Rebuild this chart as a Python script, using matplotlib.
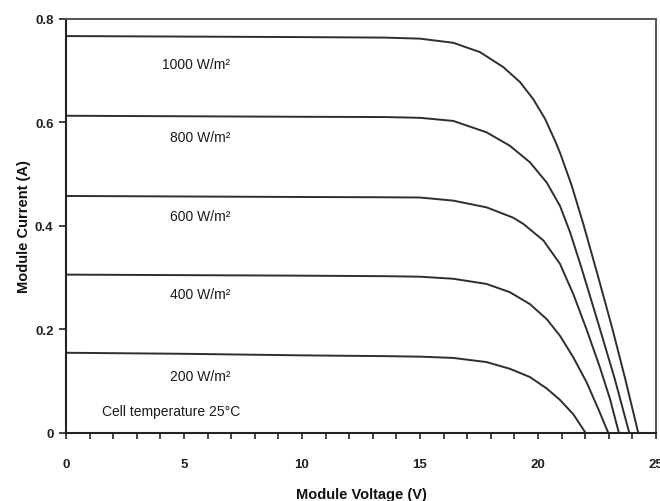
import matplotlib
matplotlib.use("Agg")
import matplotlib.pyplot as plt
from matplotlib.ticker import MultipleLocator

plt.rcParams['font.family'] = ['Liberation Sans', 'DejaVu Sans']

# I-V curves of the module at five irradiance levels (voltage V, current A)
v_1000 = [0, 5, 10, 13.5, 15.0, 16.41, 17.54, 18.53, 19.24, 19.80, 20.30, 20.72, 20.93, 21.43, 21.92,
          22.5, 23.15, 23.7, 24.25]
i_1000 = [0.767, 0.766, 0.765, 0.764, 0.762, 0.754, 0.736, 0.707, 0.678, 0.645, 0.607, 0.565, 0.542, 0.478,
          0.404, 0.31, 0.202, 0.104, 0.0]

v_800 = [0, 5, 10, 13.5, 15.0, 16.41, 17.82, 18.81, 19.66, 20.37, 20.93, 21.36, 21.85, 22.58, 23.25, 23.87]
i_800 = [0.613, 0.612, 0.611, 0.6105, 0.609, 0.603, 0.581, 0.555, 0.523, 0.484, 0.439, 0.388, 0.318, 0.208,
         0.105, 0.0]

v_600 = [0, 5, 10, 13.5, 15.0, 16.41, 17.82, 18.95, 19.38, 20.23, 20.93, 21.50, 22.06, 22.63, 23.05, 23.43]
i_600 = [0.458, 0.457, 0.456, 0.4555, 0.455, 0.449, 0.436, 0.416, 0.404, 0.372, 0.327, 0.268, 0.200, 0.126,
         0.066, 0.0]

v_400 = [0, 5, 10, 13.5, 15.0, 16.41, 17.82, 18.81, 19.66, 20.37, 20.93, 21.50, 22.06, 22.56, 22.98]
i_400 = [0.306, 0.305, 0.304, 0.303, 0.302, 0.298, 0.288, 0.272, 0.249, 0.220, 0.188, 0.146, 0.098, 0.046, 0.0]

v_200 = [0, 5, 10, 13.5, 15.0, 16.41, 17.82, 18.81, 19.24, 19.66, 20.37, 20.93, 21.50, 22.02]
i_200 = [0.155, 0.153, 0.150, 0.1485, 0.1475, 0.145, 0.137, 0.124, 0.116, 0.108, 0.086, 0.064, 0.036, 0.0]

curves = [(v_1000, i_1000), (v_800, i_800), (v_600, i_600), (v_400, i_400), (v_200, i_200)]

labels = ["1000 W/m²", "800 W/m²", "600 W/m²", "400 W/m²", "200 W/m²"]
label_x = [4.06, 4.41, 4.41, 4.41, 4.41]
label_y = [0.713, 0.571, 0.419, 0.269, 0.111]

fig = plt.figure(figsize=(6.6, 5.02), dpi=100)
ax = fig.add_axes([0.1, 0.1355, 0.8939, 0.8247])

for v, i in curves:
    ax.plot(v, i, color='#2e2e2e', lw=1.4, solid_joinstyle='round')

for lab, lx, ly in zip(labels, label_x, label_y):
    ax.text(lx, ly, lab, fontsize=10, va='center', ha='left', color='#1a1a1a')

ax.text(1.51, 0.043, "Cell temperature 25°C", fontsize=10, va='center', ha='left', color='#1a1a1a')

ax.set_xlim(0, 25)
ax.set_ylim(0, 0.8)
ax.xaxis.set_major_locator(MultipleLocator(5))
ax.xaxis.set_minor_locator(MultipleLocator(1))
ax.set_yticks([0, 0.2, 0.4, 0.6, 0.8])
ax.set_yticklabels(["0", "0.2", "0.4", "0.6", "0.8"])

ax.tick_params(axis='x', which='both', direction='out', length=4, width=1.2, pad=14,
               labelsize=9.5, colors='#222')
ax.tick_params(axis='y', which='major', direction='out', length=5, width=1.2, pad=4,
               labelsize=9.5, colors='#222')
for lbl in ax.get_xticklabels() + ax.get_yticklabels():
    lbl.set_fontweight('bold')

for side in ['left', 'bottom']:
    ax.spines[side].set_color('#222')
    ax.spines[side].set_linewidth(1.5)
for side in ['top', 'right']:
    ax.spines[side].set_color('#555')
    ax.spines[side].set_linewidth(1.4)

ax.set_xlabel("Module Voltage (V)", fontsize=10.5, fontweight='bold', labelpad=12, color='#111')
ax.set_ylabel("Module Current (A)", fontsize=10.5, fontweight='bold', labelpad=3, color='#111')

fig.savefig("out.png", dpi=100)
